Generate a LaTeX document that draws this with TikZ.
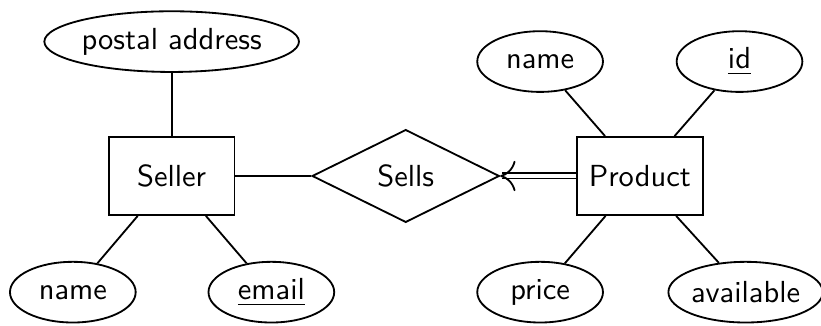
\documentclass[tikz,border=0pt]{standalone}
\usetikzlibrary{shapes.geometric,arrows.meta}
\begin{document}
\begin{tikzpicture}[semithick, every node/.style={font=\sffamily},
  entity/.style={draw,minimum width=1.45cm,minimum height=0.9cm},
  attr/.style={draw,ellipse,inner sep=0pt,minimum width=1.45cm,minimum height=0.7cm},
  rel/.style={draw,diamond,aspect=2,inner sep=0pt,minimum width=2.16cm,minimum height=1.07cm}]
\useasboundingbox (0,0) rectangle (9.47,3.75);
\node[entity] (seller) at (1.98,1.72) {Seller};
\node[rel] (sells) at (4.68,1.72) {Sells};
\node[entity] (product) at (7.38,1.72) {Product};
\node[attr] (postal) at (1.98,3.27) {postal address};
\node[attr] (sname) at (0.84,0.38) {name};
\node[attr] (email) at (3.13,0.38) {\underline{email}};
\node[attr] (pname) at (6.23,3.04) {name};
\node[attr] (id) at (8.53,3.04) {\underline{id}};
\node[attr] (price) at (6.23,0.38) {price};
\node[attr,minimum width=1.71cm] (avail) at (8.60,0.38) {available};
\draw (postal) -- (seller);
\draw (sname) -- (seller);
\draw (email) -- (seller);
\draw (seller) -- (sells);
\draw[-{To[length=5pt,width=10pt,line width=0.6pt]},double,double distance=1.1pt] (product) -- (sells);
\draw (pname) -- (product);
\draw (id) -- (product);
\draw (price) -- (product);
\draw (avail) -- (product);
\end{tikzpicture}
\end{document}
